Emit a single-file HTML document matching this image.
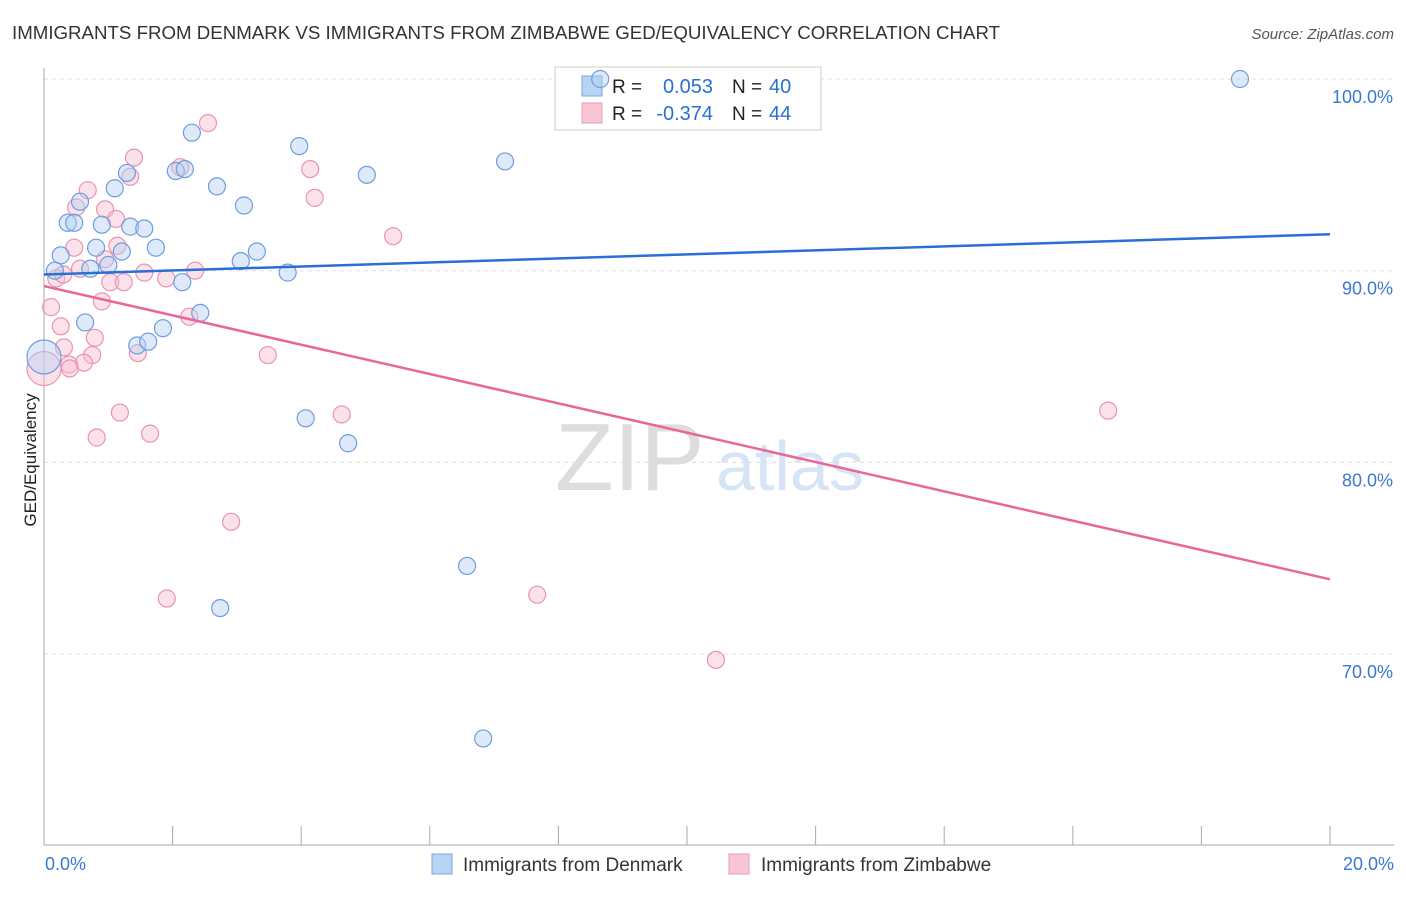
<!DOCTYPE html>
<html><head><meta charset="utf-8"><style>
body{margin:0;background:#fff;font-family:"Liberation Sans",sans-serif;}
svg text{font-family:"Liberation Sans",sans-serif;}
</style></head><body>
<svg id="chart" width="1406" height="892" xmlns="http://www.w3.org/2000/svg">
<text x="12" y="39" font-size="18.7" fill="#333">IMMIGRANTS FROM DENMARK VS IMMIGRANTS FROM ZIMBABWE GED/EQUIVALENCY CORRELATION CHART</text>
<text x="1394" y="39" font-size="15" fill="#555" font-style="italic" text-anchor="end">Source: ZipAtlas.com</text>
<text x="36" y="460" font-size="17" fill="#222" text-anchor="middle" transform="rotate(-90 36 460)">GED/Equivalency</text>
<text x="555" y="490" font-size="96" fill="#ddd" font-family="Liberation Serif">ZIP</text>
<text x="716" y="490" font-size="70" fill="#d6e4f5">atlas</text>
<g id="grid"></g><g id="axes"></g>
<g>
<rect x="555" y="67" width="266" height="63" fill="#fff" stroke="#ccc"/>
<rect x="582" y="76" width="20" height="20" fill="#b9d3f3" stroke="#7aa6e0"/>
<rect x="582" y="103" width="20" height="20" fill="#f9c6d5" stroke="#ec9ab4"/>
<text x="612" y="93" font-size="19" fill="#222">R =</text>
<text x="713" y="93" font-size="20" fill="#2a6fd6" text-anchor="end">0.053</text>
<text x="732" y="93" font-size="19" fill="#222">N =</text>
<text x="769" y="93" font-size="20" fill="#2a6fd6">40</text>
<text x="612" y="120" font-size="19" fill="#222">R =</text>
<text x="713" y="120" font-size="20" fill="#2a6fd6" text-anchor="end">-0.374</text>
<text x="732" y="120" font-size="19" fill="#222">N =</text>
<text x="769" y="120" font-size="20" fill="#2a6fd6">44</text>
</g>
<g id="pts"></g><g id="lines"></g>
<g>
<rect x="432" y="854" width="20" height="20" fill="#b9d3f3" stroke="#7aa6e0"/>
<text x="463" y="871" font-size="19" fill="#333">Immigrants from Denmark</text>
<rect x="729" y="854" width="20" height="20" fill="#f9c6d5" stroke="#ec9ab4"/>
<text x="761" y="871" font-size="19" fill="#333">Immigrants from Zimbabwe</text>
</g>
</svg>
<script>
const yTicks=[100,90,80,70];
const yTickLabels=["100.0%","90.0%","80.0%","70.0%"];
const xTickLabels=["0.0%","20.0%"];
const denmarkX=[8.65,18.6,2.30,3.97,7.17,1.29,2.05,2.19,5.02,1.10,2.69,0.56,3.11,0.37,0.47,0.90,1.34,1.56,0.81,1.74,1.21,0.26,3.31,3.06,0.17,0.72,1.00,3.79,2.15,2.43,0.64,1.85,1.45,1.62,0,4.07,4.73,6.58,2.74,6.83];
const denmarkY=[100.0,100.0,97.2,96.5,95.7,95.1,95.2,95.3,95.0,94.3,94.4,93.6,93.4,92.5,92.5,92.4,92.3,92.2,91.2,91.2,91.0,90.8,91.0,90.5,90.0,90.1,90.3,89.9,89.4,87.8,87.3,87.0,86.1,86.3,85.5,82.3,81.0,74.6,72.4,65.6];
const zimX=[2.55,1.40,2.12,1.34,4.14,0.68,4.21,0.50,0.95,1.12,5.43,0.47,1.14,0.95,0.56,1.56,1.90,2.35,0.19,1.03,1.24,0.11,0.90,2.26,0.26,0.79,0.31,1.46,0.75,0.62,0.39,0.40,3.48,0,1.18,4.63,16.55,0.82,1.65,2.91,1.91,7.67,10.45,0.3];
const zimY=[97.7,95.9,95.4,94.9,95.3,94.2,93.8,93.3,93.2,92.7,91.8,91.2,91.3,90.6,90.1,89.9,89.6,90.0,89.6,89.4,89.4,88.1,88.4,87.6,87.1,86.5,86.0,85.7,85.6,85.2,85.1,84.9,85.6,84.9,82.6,82.5,82.7,81.3,81.5,76.9,72.9,73.1,69.7,89.8];
const denmarkTrend=[89.8,91.9];
const zimTrend=[89.2,73.9];
const NS="http://www.w3.org/2000/svg";
const X0=44,X1=1330,Y100=79,PX10=191.7;
const sx=v=>X0+(v/20)*(X1-X0);
const sy=v=>Y100+(100-v)/10*PX10;
function mk(tag,attrs,parent){const e=document.createElementNS(NS,tag);for(const k in attrs)e.setAttribute(k,attrs[k]);document.getElementById(parent).appendChild(e);return e;}
yTicks.forEach((t,i)=>{
 const g=mk('line',{x1:X0,x2:1394,y1:sy(t),y2:sy(t),stroke:'#ddd','stroke-dasharray':'4,4'},'grid');
 
 
 const l=mk('text',{x:1393,y:sy(t)+24,'font-size':18,fill:'#3a78d4','text-anchor':'end'},'axes');
 l.textContent=yTickLabels[i];
 
 
});
const ya=mk('line',{x1:X0,x2:X0,y1:68,y2:845,stroke:'#aaa'},'axes');


const xa=mk('line',{x1:X0,x2:1394,y1:845,y2:845,stroke:'#aaa'},'axes');


for(let i=0;i<=10;i++){
 const t=mk('line',{x1:sx(i*2),x2:sx(i*2),y1:826,y2:845,stroke:'#aaa'},'axes');
 
 
}
[[0,'start',45],[20,'end',1394]].forEach((d,i)=>{
 const l=mk('text',{x:d[2],y:870,'font-size':18,fill:'#3a78d4','text-anchor':d[1]},'axes');
 l.textContent=xTickLabels[i];
 
 
});
function pts(xs,ys,fill,stroke,name){
 xs.forEach((x,i)=>{
  const r=(x===0)?17:8.5;
  const c=mk('circle',{cx:sx(x),cy:sy(ys[i]),r:r,fill:fill,'fill-opacity':0.45,stroke:stroke,'stroke-width':1.2},'pts');
  
  
 });
}
pts(zimX,zimY,'#f7bfd0','#eb93b0','zimbabwe-point');
pts(denmarkX,denmarkY,'#b5d0f2','#6d9de0','denmark-point');
const bl=mk('line',{x1:sx(0),y1:sy(denmarkTrend[0]),x2:sx(20),y2:sy(denmarkTrend[1]),stroke:'#2a6fd6','stroke-width':2.5},'lines');


const pl=mk('line',{x1:sx(0),y1:sy(zimTrend[0]),x2:sx(20),y2:sy(zimTrend[1]),stroke:'#e8679a','stroke-width':2.5},'lines');


</script>
</body></html>
